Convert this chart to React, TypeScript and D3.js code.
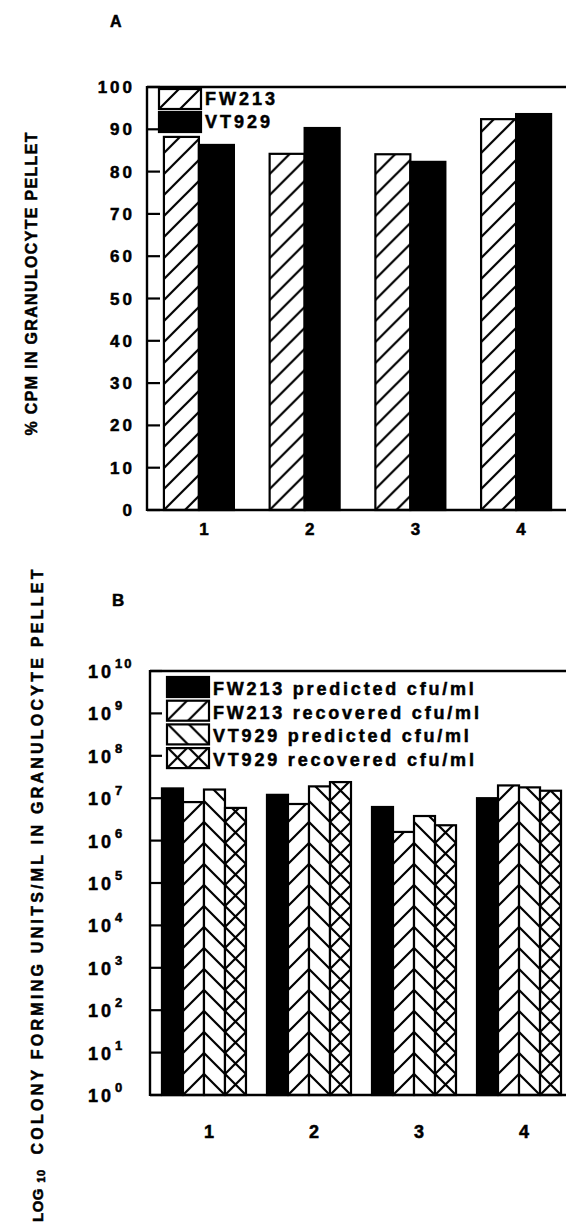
import React from 'react';
import * as d3 from 'd3';

// ---------- Data ----------
const groups = ['1', '2', '3', '4'];

// Panel A: % CPM in granulocyte pellet
const seriesA = ['FW213', 'VT929'];
const fw213Cpm = [88.2, 84.2, 84.1, 92.4];
const vt929Cpm = [86.3, 90.3, 82.3, 93.6];
const ticksA = [0, 10, 20, 30, 40, 50, 60, 70, 80, 90, 100];

// Panel B: log10 colony forming units / ml
const seriesB = [
  'FW213 predicted cfu/ml',
  'FW213 recovered cfu/ml',
  'VT929 predicted cfu/ml',
  'VT929 recovered cfu/ml',
];
const fw213Predicted = [1.7e7, 1.2e7, 6.2e6, 1.0e7];
const fw213Recovered = [8.1e6, 7.3e6, 1.6e6, 2.0e7];
const vt929Predicted = [1.6e7, 1.9e7, 3.8e6, 1.8e7];
const vt929Recovered = [5.9e6, 2.4e7, 2.3e6, 1.5e7];
const exponentsB = [0, 1, 2, 3, 4, 5, 6, 7, 8, 9, 10];

// ---------- Styling ----------
const FONT = "'Liberation Sans', Arial, Helvetica, sans-serif";
const S = 21; // hatch period

type Fill = 'solid' | 'fwd' | 'back' | 'cross';
const fillsA: Fill[] = ['fwd', 'solid'];
const fillsB: Fill[] = ['solid', 'fwd', 'back', 'cross'];

function hatchPath(kind: Fill, s: number): string {
  const fwd = `M0,${s}L${s},0M${-s / 2},${s / 2}L${s / 2},${-s / 2}M${s / 2},${s * 1.5}L${s * 1.5},${s / 2}`;
  const back = `M0,0L${s},${s}M${-s / 2},${s / 2}L${s / 2},${s * 1.5}M${s / 2},${-s / 2}L${s * 1.5},${s / 2}`;
  if (kind === 'fwd') return fwd;
  if (kind === 'back') return back;
  if (kind === 'cross') return fwd + back;
  return '';
}

function Pattern({ id, kind, x, y }: { id: string; kind: Fill; x: number; y: number }) {
  return (
    <pattern id={id} patternUnits="userSpaceOnUse" x={x} y={y} width={S} height={S}>
      <rect width={S} height={S} fill="#fff" />
      <path d={hatchPath(kind, S)} stroke="#000" strokeWidth={2.2} fill="none" />
    </pattern>
  );
}

function Bar({ id, kind, x, y, w, h }: { id: string; kind: Fill; x: number; y: number; w: number; h: number }) {
  return (
    <g>
      {kind !== 'solid' && <Pattern id={id} kind={kind} x={x} y={y + h} />}
      <rect
        x={x}
        y={y}
        width={w}
        height={h}
        fill={kind === 'solid' ? '#000' : `url(#${id})`}
        stroke="#000"
        strokeWidth={2.2}
      />
    </g>
  );
}

export default function App() {
  // ----- Panel A scales -----
  const axA = 147;
  const xA = d3.scaleBand<string>().domain(groups).range([axA, 568]).paddingInner(0.338).paddingOuter(0.16);
  const xAin = d3.scaleBand<string>().domain(seriesA).range([0, xA.bandwidth()]);
  const yA = d3.scaleLinear().domain([0, 100]).range([510, 87]);
  const valsA = [fw213Cpm, vt929Cpm];

  // ----- Panel B scales -----
  const axB = 150;
  const xB = d3.scaleBand<string>().domain(groups).range([axB, 573]).paddingInner(0.2).paddingOuter(0.114);
  const xBin = d3.scaleBand<string>().domain(seriesB).range([0, xB.bandwidth()]);
  const yB = d3.scaleLog().domain([1, 1e10]).range([1095, 671]);
  const valsB = [fw213Predicted, fw213Recovered, vt929Predicted, vt929Recovered];

  const txt = { fontFamily: FONT, fontWeight: 700 as const, fill: '#000', stroke: '#000', strokeWidth: 0.5 };

  return (
    <svg width={566} height={1228} style={{ position: 'absolute', left: 0, top: 0, background: '#fff' }}>
      <rect width={566} height={1228} fill="#fff" />

      {/* ================= Panel A ================= */}
      <text x={110} y={27} fontSize={16} {...txt}>A</text>

      {/* bars */}
      {groups.map((g, gi) =>
        seriesA.map((s, si) => {
          const x = (xA(g) ?? 0) + (xAin(s) ?? 0);
          const y = yA(valsA[si][gi]);
          return (
            <Bar key={`a-${g}-${s}`} id={`pa-${gi}-${si}`} kind={fillsA[si]} x={x} y={y} w={xAin.bandwidth()} h={yA(0) - y} />
          );
        })
      )}

      {/* frame */}
      <line x1={axA} x2={566} y1={yA(100)} y2={yA(100)} stroke="#000" strokeWidth={2.4} />
      <line x1={axA} x2={566} y1={yA(0)} y2={yA(0)} stroke="#000" strokeWidth={2.4} />
      <line x1={axA} x2={axA} y1={yA(100) - 1} y2={yA(0) + 1} stroke="#000" strokeWidth={2.4} />

      {/* y ticks */}
      {ticksA.map((t) => (
        <g key={`ta-${t}`}>
          <line x1={axA} x2={axA + 13} y1={yA(t)} y2={yA(t)} stroke="#000" strokeWidth={2.2} />
          <text x={135} y={yA(t) + 6} fontSize={17} letterSpacing={3} textAnchor="end" {...txt}>{t}</text>
        </g>
      ))}

      {/* x labels */}
      {groups.map((g) => (
        <text key={`xa-${g}`} x={(xA(g) ?? 0) + xA.bandwidth() / 2 + 5} y={535} fontSize={17} textAnchor="middle" {...txt}>{g}</text>
      ))}

      {/* legend A */}
      {seriesA.map((s, i) => (
        <g key={`la-${s}`}>
          <Bar id={`pla-${i}`} kind={fillsA[i]} x={159} y={89 + i * 23} w={42} h={20} />
          <text x={205} y={105 + i * 23} fontSize={18} letterSpacing={3} {...txt}>{s}</text>
        </g>
      ))}

      {/* y label A */}
      <text transform="translate(37,284) rotate(-90)" fontSize={16} textAnchor="middle" textLength={303} lengthAdjust="spacing" {...txt}>
        % CPM IN GRANULOCYTE PELLET
      </text>

      {/* ================= Panel B ================= */}
      <text x={112} y={606} fontSize={17} {...txt}>B</text>

      {groups.map((g, gi) =>
        seriesB.map((s, si) => {
          const x = (xB(g) ?? 0) + (xBin(s) ?? 0);
          const y = yB(valsB[si][gi]);
          return (
            <Bar key={`b-${g}-${si}`} id={`pb-${gi}-${si}`} kind={fillsB[si]} x={x} y={y} w={xBin.bandwidth()} h={yB(1) - y} />
          );
        })
      )}

      {/* frame */}
      <line x1={axB} x2={566} y1={yB(1e10)} y2={yB(1e10)} stroke="#000" strokeWidth={2.4} />
      <line x1={axB} x2={566} y1={yB(1)} y2={yB(1)} stroke="#000" strokeWidth={2.4} />
      <line x1={axB} x2={axB} y1={yB(1e10) - 1} y2={yB(1) + 1} stroke="#000" strokeWidth={2.4} />

      {/* y ticks */}
      {exponentsB.map((e) => (
        <g key={`tb-${e}`}>
          <line x1={axB} x2={axB + 12} y1={yB(Math.pow(10, e))} y2={yB(Math.pow(10, e))} stroke="#000" strokeWidth={2.2} />
          <text x={88} y={yB(Math.pow(10, e)) + 7} fontSize={18} letterSpacing={3} {...txt}>
            10
            <tspan fontSize={13} dx={1} dy={-10} letterSpacing={2}>{e}</tspan>
          </text>
        </g>
      ))}

      {/* x labels */}
      {groups.map((g) => (
        <text key={`xb-${g}`} x={(xB(g) ?? 0) + xB.bandwidth() / 2 + 5} y={1138} fontSize={18} textAnchor="middle" {...txt}>{g}</text>
      ))}

      {/* legend B */}
      {seriesB.map((s, i) => (
        <g key={`lb-${s}`}>
          <Bar id={`plb-${i}`} kind={fillsB[i]} x={167} y={677 + i * 23.7} w={42} h={20} />
          <text x={213} y={695 + i * 23.7} fontSize={18} letterSpacing={2.8} {...txt}>{s}</text>
        </g>
      ))}

      {/* y label B */}
      <text transform="translate(43,862) rotate(-90)" fontSize={16} textAnchor="middle" textLength={585} lengthAdjust="spacing" {...txt}>
        COLONY FORMING UNITS/ML IN GRANULOCYTE PELLET
      </text>
      <text transform="translate(45,1176) rotate(-90)" fontSize={11} textAnchor="middle" letterSpacing={0.5} {...txt}>10</text>
      <text transform="translate(43,1188) rotate(-90)" fontSize={15} textAnchor="end" letterSpacing={0.5} {...txt}>LOG</text>
    </svg>
  );
}
